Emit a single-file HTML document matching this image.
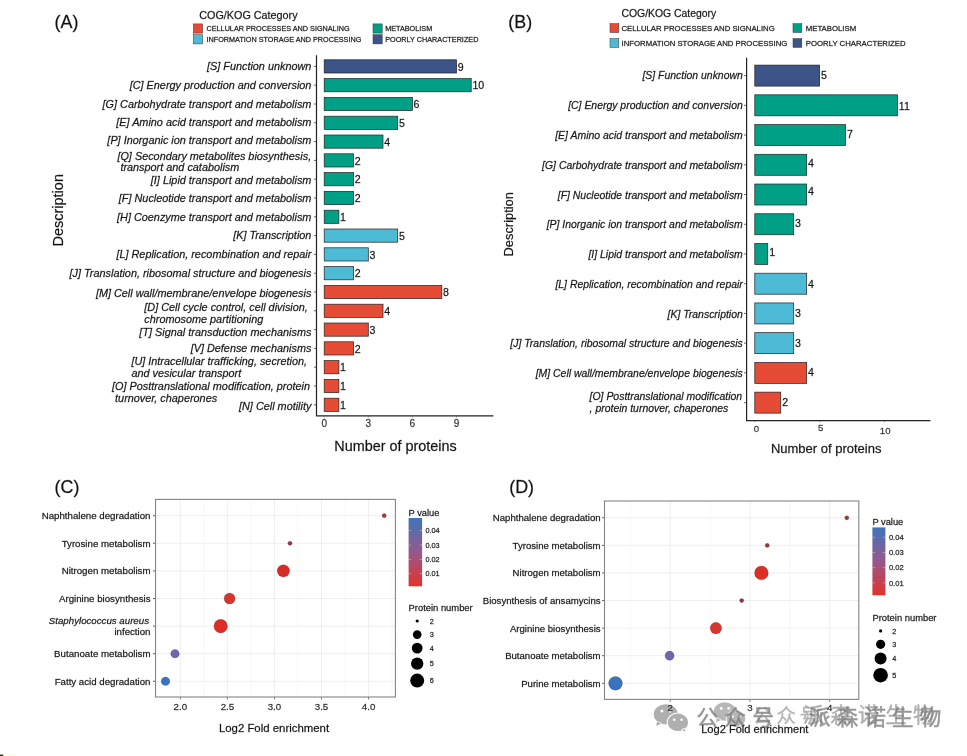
<!DOCTYPE html>
<html><head><meta charset="utf-8"><title>Figure</title>
<style>
html,body{margin:0;padding:0;background:#fff;}
body{width:967px;height:756px;overflow:hidden;font-family:"Liberation Sans",sans-serif;}
svg{display:block;font-family:"Liberation Sans",sans-serif;will-change:transform;filter:blur(0.4px);}
svg text{stroke:#222;stroke-width:0.3px;stroke-opacity:0.7;}
</style></head><body>
<svg width="967" height="756" viewBox="0 0 967 756">
<defs><linearGradient id="pgrad" x1="0" y1="0" x2="0" y2="1"><stop offset="0" stop-color="#3F74BC"/><stop offset="0.5" stop-color="#96588A"/><stop offset="1" stop-color="#E2322A"/></linearGradient></defs>
<rect width="967" height="756" fill="#fff"/>
<g id="wm">
<g opacity="0.66">
<g transform="translate(724.8,711.5) scale(0.92)"><path d="M-12.1,0 a12.1,10.1 0 1,1 24.2,0 a12.1,10.1 0 1,1 -24.2,0 Z M-8.6,6.6 L-9.6,11.6 L-3.4,9.0 Z" fill="#939393"/><circle cx="-3.9" cy="-3.3" r="1.5" fill="#fff"/><circle cx="4.3" cy="-3.3" r="1.5" fill="#fff"/><ellipse cx="12.1" cy="8.0" rx="11.2" ry="9.7" fill="#fff"/><path d="M1.9,8.0 a10.2,8.7 0 1,1 20.4,0 a10.2,8.7 0 1,1 -20.4,0 Z M15.5,15.2 L19.6,17.6 L18.6,13.4 Z" fill="#939393"/><circle cx="8.4" cy="5.4" r="1.3" fill="#fff"/><circle cx="15.8" cy="5.4" r="1.3" fill="#fff"/></g>
<text x="753 776.5 799.5" y="722.5" font-size="19.5" fill="#8f8f8f" style="font-family:'Liberation Sans','Noto Sans CJK SC',sans-serif;stroke:#8f8f8f;stroke-width:0.3px;stroke-opacity:1;">公众号</text>
<text x="803 830.5 858 885.5 913" y="722" font-size="21" fill="#858585" style="font-family:'Liberation Sans','Noto Sans CJK SC',sans-serif;stroke:#858585;stroke-width:0.4px;stroke-opacity:1;">派森诺生物</text>
</g>
<g opacity="0.8">
<g transform="translate(665.8,714.3) scale(1.0)"><path d="M-12.1,0 a12.1,10.1 0 1,1 24.2,0 a12.1,10.1 0 1,1 -24.2,0 Z M-8.6,6.6 L-9.6,11.6 L-3.4,9.0 Z" fill="#9c9c9c"/><circle cx="-3.9" cy="-3.3" r="1.5" fill="#fff"/><circle cx="4.3" cy="-3.3" r="1.5" fill="#fff"/><ellipse cx="12.1" cy="8.0" rx="11.2" ry="9.7" fill="#fff"/><path d="M1.9,8.0 a10.2,8.7 0 1,1 20.4,0 a10.2,8.7 0 1,1 -20.4,0 Z M15.5,15.2 L19.6,17.6 L18.6,13.4 Z" fill="#9c9c9c"/><circle cx="8.4" cy="5.4" r="1.3" fill="#fff"/><circle cx="15.8" cy="5.4" r="1.3" fill="#fff"/></g>
<text x="696.5 724.5 752.5" y="725" font-size="21.5" fill="#7d7d7d" style="font-family:'Liberation Sans','Noto Sans CJK SC',sans-serif;stroke:#7d7d7d;stroke-width:0.45px;stroke-opacity:1;">公众号</text>
<text x="809 836.7 864.4 892 919.8" y="725" font-size="21.5" fill="#7d7d7d" style="font-family:'Liberation Sans','Noto Sans CJK SC',sans-serif;stroke:#7d7d7d;stroke-width:0.45px;stroke-opacity:1;">派森诺生物</text>
</g>
</g>
<rect x="324.2" y="59.80" width="132.30" height="13.2" fill="#3C5488" stroke="#222" stroke-width="0.7"/>
<text x="457.7" y="70.52" font-size="10.6" text-anchor="start" fill="#111"  >9</text>
<line x1="313.9" x2="316.5" y1="66.40" y2="66.40" stroke="#444" stroke-width="0.8"/>
<text x="311.4" y="70.31" font-size="10.87" text-anchor="end" fill="#111" font-style="italic" >[S] Function unknown</text>
<rect x="324.2" y="78.60" width="147.00" height="13.2" fill="#00A087" stroke="#222" stroke-width="0.7"/>
<text x="472.4" y="89.32" font-size="10.6" text-anchor="start" fill="#111"  >10</text>
<line x1="313.9" x2="316.5" y1="85.20" y2="85.20" stroke="#444" stroke-width="0.8"/>
<text x="311.4" y="89.11" font-size="10.87" text-anchor="end" fill="#111" font-style="italic" >[C] Energy production and conversion</text>
<rect x="324.2" y="97.40" width="88.20" height="13.2" fill="#00A087" stroke="#222" stroke-width="0.7"/>
<text x="413.6" y="108.12" font-size="10.6" text-anchor="start" fill="#111"  >6</text>
<line x1="313.9" x2="316.5" y1="104.00" y2="104.00" stroke="#444" stroke-width="0.8"/>
<text x="311.4" y="107.91" font-size="10.87" text-anchor="end" fill="#111" font-style="italic" >[G] Carbohydrate transport and metabolism</text>
<rect x="324.2" y="116.20" width="73.50" height="13.2" fill="#00A087" stroke="#222" stroke-width="0.7"/>
<text x="398.9" y="126.92" font-size="10.6" text-anchor="start" fill="#111"  >5</text>
<line x1="313.9" x2="316.5" y1="122.80" y2="122.80" stroke="#444" stroke-width="0.8"/>
<text x="311.4" y="126.01" font-size="10.87" text-anchor="end" fill="#111" font-style="italic" >[E] Amino acid transport and metabolism</text>
<rect x="324.2" y="135.00" width="58.80" height="13.2" fill="#00A087" stroke="#222" stroke-width="0.7"/>
<text x="384.2" y="145.72" font-size="10.6" text-anchor="start" fill="#111"  >4</text>
<line x1="313.9" x2="316.5" y1="141.60" y2="141.60" stroke="#444" stroke-width="0.8"/>
<text x="311.4" y="143.61" font-size="10.87" text-anchor="end" fill="#111" font-style="italic" >[P] Inorganic ion transport and metabolism</text>
<rect x="324.2" y="153.80" width="29.40" height="13.2" fill="#00A087" stroke="#222" stroke-width="0.7"/>
<text x="354.8" y="164.52" font-size="10.6" text-anchor="start" fill="#111"  >2</text>
<line x1="313.9" x2="316.5" y1="160.40" y2="160.40" stroke="#444" stroke-width="0.8"/>
<text x="117.4" y="159.51" font-size="10.87" text-anchor="start" fill="#111" font-style="italic" >[Q] Secondary metabolites biosynthesis,</text>
<text x="120.4" y="170.91" font-size="10.87" text-anchor="start" fill="#111" font-style="italic" >transport and catabolism</text>
<rect x="324.2" y="172.60" width="29.40" height="13.2" fill="#00A087" stroke="#222" stroke-width="0.7"/>
<text x="354.8" y="183.32" font-size="10.6" text-anchor="start" fill="#111"  >2</text>
<line x1="313.9" x2="316.5" y1="179.20" y2="179.20" stroke="#444" stroke-width="0.8"/>
<text x="311.4" y="183.81" font-size="10.87" text-anchor="end" fill="#111" font-style="italic" >[I] Lipid transport and metabolism</text>
<rect x="324.2" y="191.40" width="29.40" height="13.2" fill="#00A087" stroke="#222" stroke-width="0.7"/>
<text x="354.8" y="202.12" font-size="10.6" text-anchor="start" fill="#111"  >2</text>
<line x1="313.9" x2="316.5" y1="198.00" y2="198.00" stroke="#444" stroke-width="0.8"/>
<text x="311.4" y="201.91" font-size="10.87" text-anchor="end" fill="#111" font-style="italic" >[F] Nucleotide transport and metabolism</text>
<rect x="324.2" y="210.20" width="14.70" height="13.2" fill="#00A087" stroke="#222" stroke-width="0.7"/>
<text x="340.1" y="220.92" font-size="10.6" text-anchor="start" fill="#111"  >1</text>
<line x1="313.9" x2="316.5" y1="216.80" y2="216.80" stroke="#444" stroke-width="0.8"/>
<text x="311.4" y="220.71" font-size="10.87" text-anchor="end" fill="#111" font-style="italic" >[H] Coenzyme transport and metabolism</text>
<rect x="324.2" y="229.00" width="73.50" height="13.2" fill="#4DBBD5" stroke="#222" stroke-width="0.7"/>
<text x="398.9" y="239.72" font-size="10.6" text-anchor="start" fill="#111"  >5</text>
<line x1="313.9" x2="316.5" y1="235.60" y2="235.60" stroke="#444" stroke-width="0.8"/>
<text x="311.4" y="238.81" font-size="10.87" text-anchor="end" fill="#111" font-style="italic" >[K] Transcription</text>
<rect x="324.2" y="247.80" width="44.10" height="13.2" fill="#4DBBD5" stroke="#222" stroke-width="0.7"/>
<text x="369.5" y="258.52" font-size="10.6" text-anchor="start" fill="#111"  >3</text>
<line x1="313.9" x2="316.5" y1="254.40" y2="254.40" stroke="#444" stroke-width="0.8"/>
<text x="311.4" y="258.31" font-size="10.87" text-anchor="end" fill="#111" font-style="italic" >[L] Replication, recombination and repair</text>
<rect x="324.2" y="266.60" width="29.40" height="13.2" fill="#4DBBD5" stroke="#222" stroke-width="0.7"/>
<text x="354.8" y="277.32" font-size="10.6" text-anchor="start" fill="#111"  >2</text>
<line x1="313.9" x2="316.5" y1="273.20" y2="273.20" stroke="#444" stroke-width="0.8"/>
<text x="311.4" y="277.11" font-size="10.87" text-anchor="end" fill="#111" font-style="italic" >[J] Translation, ribosomal structure and biogenesis</text>
<rect x="324.2" y="285.40" width="117.60" height="13.2" fill="#E64B35" stroke="#222" stroke-width="0.7"/>
<text x="443.0" y="296.12" font-size="10.6" text-anchor="start" fill="#111"  >8</text>
<line x1="313.9" x2="316.5" y1="292.00" y2="292.00" stroke="#444" stroke-width="0.8"/>
<text x="311.4" y="296.91" font-size="10.87" text-anchor="end" fill="#111" font-style="italic" >[M] Cell wall/membrane/envelope biogenesis</text>
<rect x="324.2" y="304.20" width="58.80" height="13.2" fill="#E64B35" stroke="#222" stroke-width="0.7"/>
<text x="384.2" y="314.92" font-size="10.6" text-anchor="start" fill="#111"  >4</text>
<line x1="313.9" x2="316.5" y1="310.80" y2="310.80" stroke="#444" stroke-width="0.8"/>
<text x="144.3" y="311.01" font-size="10.87" text-anchor="start" fill="#111" font-style="italic" >[D] Cell cycle control, cell division,</text>
<text x="144.3" y="323.21" font-size="10.87" text-anchor="start" fill="#111" font-style="italic" >chromosome partitioning</text>
<rect x="324.2" y="323.00" width="44.10" height="13.2" fill="#E64B35" stroke="#222" stroke-width="0.7"/>
<text x="369.5" y="333.72" font-size="10.6" text-anchor="start" fill="#111"  >3</text>
<line x1="313.9" x2="316.5" y1="329.60" y2="329.60" stroke="#444" stroke-width="0.8"/>
<text x="311.4" y="335.81" font-size="10.87" text-anchor="end" fill="#111" font-style="italic" >[T] Signal transduction mechanisms</text>
<rect x="324.2" y="341.80" width="29.40" height="13.2" fill="#E64B35" stroke="#222" stroke-width="0.7"/>
<text x="354.8" y="352.52" font-size="10.6" text-anchor="start" fill="#111"  >2</text>
<line x1="313.9" x2="316.5" y1="348.40" y2="348.40" stroke="#444" stroke-width="0.8"/>
<text x="311.4" y="352.31" font-size="10.87" text-anchor="end" fill="#111" font-style="italic" >[V] Defense mechanisms</text>
<rect x="324.2" y="360.60" width="14.70" height="13.2" fill="#E64B35" stroke="#222" stroke-width="0.7"/>
<text x="340.1" y="371.32" font-size="10.6" text-anchor="start" fill="#111"  >1</text>
<line x1="313.9" x2="316.5" y1="367.20" y2="367.20" stroke="#444" stroke-width="0.8"/>
<text x="131.4" y="365.31" font-size="10.87" text-anchor="start" fill="#111" font-style="italic" >[U] Intracellular trafficking, secretion,</text>
<text x="131.4" y="377.01" font-size="10.87" text-anchor="start" fill="#111" font-style="italic" >and vesicular transport</text>
<rect x="324.2" y="379.40" width="14.70" height="13.2" fill="#E64B35" stroke="#222" stroke-width="0.7"/>
<text x="340.1" y="390.12" font-size="10.6" text-anchor="start" fill="#111"  >1</text>
<line x1="313.9" x2="316.5" y1="386.00" y2="386.00" stroke="#444" stroke-width="0.8"/>
<text x="112.0" y="389.91" font-size="10.87" text-anchor="start" fill="#111" font-style="italic" >[O] Posttranslational modification, protein</text>
<text x="115.1" y="402.31" font-size="10.87" text-anchor="start" fill="#111" font-style="italic" >turnover, chaperones</text>
<rect x="324.2" y="398.20" width="14.70" height="13.2" fill="#E64B35" stroke="#222" stroke-width="0.7"/>
<text x="340.1" y="408.92" font-size="10.6" text-anchor="start" fill="#111"  >1</text>
<line x1="313.9" x2="316.5" y1="404.80" y2="404.80" stroke="#444" stroke-width="0.8"/>
<text x="311.4" y="409.71" font-size="10.87" text-anchor="end" fill="#111" font-style="italic" >[N] Cell motility</text>
<line x1="316.5" x2="316.5" y1="55.3" y2="415.8" stroke="#222" stroke-width="1.2"/>
<line x1="315.9" x2="493.4" y1="415.8" y2="415.8" stroke="#222" stroke-width="1.2"/>
<line x1="324.20" x2="324.20" y1="415.8" y2="417.40000000000003" stroke="#555" stroke-width="0.7"/>
<text x="324.2" y="427.3" font-size="10" text-anchor="middle" fill="#444"  >0</text>
<line x1="368.30" x2="368.30" y1="415.8" y2="417.40000000000003" stroke="#555" stroke-width="0.7"/>
<text x="368.3" y="427.3" font-size="10" text-anchor="middle" fill="#444"  >3</text>
<line x1="412.40" x2="412.40" y1="415.8" y2="417.40000000000003" stroke="#555" stroke-width="0.7"/>
<text x="412.4" y="427.3" font-size="10" text-anchor="middle" fill="#444"  >6</text>
<line x1="456.50" x2="456.50" y1="415.8" y2="417.40000000000003" stroke="#555" stroke-width="0.7"/>
<text x="456.5" y="427.3" font-size="10" text-anchor="middle" fill="#444"  >9</text>
<text x="395.5" y="451" font-size="14.4" text-anchor="middle" fill="#111"  >Number of proteins</text>
<text x="54.6" y="27.9" font-size="17.9" text-anchor="start" fill="#111"  >(A)</text>
<text transform="translate(63,210.3) rotate(-90)" font-size="14.5" text-anchor="middle" fill="#111">Description</text>
<text x="199.2" y="18.8" font-size="10.8" text-anchor="start" fill="#111"  >COG/KOG Category</text>
<rect x="193.4" y="23.90" width="9.2" height="9.2" fill="#E64B35" stroke="#333" stroke-width="0.5"/>
<rect x="193.4" y="34.70" width="9.2" height="9.2" fill="#4DBBD5" stroke="#333" stroke-width="0.5"/>
<rect x="373" y="23.90" width="9.2" height="9.2" fill="#00A087" stroke="#333" stroke-width="0.5"/>
<rect x="373" y="34.70" width="9.2" height="9.2" fill="#3C5488" stroke="#333" stroke-width="0.5"/>
<text x="206.5" y="31.11" font-size="7.25" text-anchor="start" fill="#111"  >CELLULAR PROCESSES AND SIGNALING</text>
<text x="206.5" y="41.91" font-size="7.25" text-anchor="start" fill="#111"  >INFORMATION STORAGE AND PROCESSING</text>
<text x="385.2" y="31.11" font-size="7.25" text-anchor="start" fill="#111"  >METABOLISM</text>
<text x="385.2" y="41.91" font-size="7.25" text-anchor="start" fill="#111"  >POORLY CHARACTERIZED</text>
<rect x="754.8" y="65.10" width="64.85" height="21" fill="#3C5488" stroke="#222" stroke-width="0.7"/>
<text x="821.05" y="78.52" font-size="10.6" text-anchor="start" fill="#111"  >5</text>
<line x1="744.0" x2="746.6" y1="75.60" y2="75.60" stroke="#444" stroke-width="0.8"/>
<text x="742.8" y="79.36" font-size="10.45" text-anchor="end" fill="#111" font-style="italic" >[S] Function unknown</text>
<rect x="754.8" y="94.83" width="142.67" height="21" fill="#00A087" stroke="#222" stroke-width="0.7"/>
<text x="898.87" y="110.15" font-size="10.6" text-anchor="start" fill="#111"  >11</text>
<line x1="744.0" x2="746.6" y1="105.33" y2="105.33" stroke="#444" stroke-width="0.8"/>
<text x="742.8" y="109.09" font-size="10.45" text-anchor="end" fill="#111" font-style="italic" >[C] Energy production and conversion</text>
<rect x="754.8" y="124.56" width="90.79" height="21" fill="#00A087" stroke="#222" stroke-width="0.7"/>
<text x="846.99" y="137.58" font-size="10.6" text-anchor="start" fill="#111"  >7</text>
<line x1="744.0" x2="746.6" y1="135.06" y2="135.06" stroke="#444" stroke-width="0.8"/>
<text x="742.8" y="138.82" font-size="10.45" text-anchor="end" fill="#111" font-style="italic" >[E] Amino acid transport and metabolism</text>
<rect x="754.8" y="154.29" width="51.88" height="21" fill="#00A087" stroke="#222" stroke-width="0.7"/>
<text x="808.08" y="166.71" font-size="10.6" text-anchor="start" fill="#111"  >4</text>
<line x1="744.0" x2="746.6" y1="164.79" y2="164.79" stroke="#444" stroke-width="0.8"/>
<text x="742.8" y="168.55" font-size="10.45" text-anchor="end" fill="#111" font-style="italic" >[G] Carbohydrate transport and metabolism</text>
<rect x="754.8" y="184.02" width="51.88" height="21" fill="#00A087" stroke="#222" stroke-width="0.7"/>
<text x="808.08" y="195.34" font-size="10.6" text-anchor="start" fill="#111"  >4</text>
<line x1="744.0" x2="746.6" y1="194.52" y2="194.52" stroke="#444" stroke-width="0.8"/>
<text x="742.8" y="198.78" font-size="10.45" text-anchor="end" fill="#111" font-style="italic" >[F] Nucleotide transport and metabolism</text>
<rect x="754.8" y="213.75" width="38.91" height="21" fill="#00A087" stroke="#222" stroke-width="0.7"/>
<text x="795.11" y="227.47" font-size="10.6" text-anchor="start" fill="#111"  >3</text>
<line x1="744.0" x2="746.6" y1="224.25" y2="224.25" stroke="#444" stroke-width="0.8"/>
<text x="742.8" y="228.01" font-size="10.45" text-anchor="end" fill="#111" font-style="italic" >[P] Inorganic ion transport and metabolism</text>
<rect x="754.8" y="243.48" width="12.97" height="21" fill="#00A087" stroke="#222" stroke-width="0.7"/>
<text x="769.17" y="256.3" font-size="10.6" text-anchor="start" fill="#111"  >1</text>
<line x1="744.0" x2="746.6" y1="253.98" y2="253.98" stroke="#444" stroke-width="0.8"/>
<text x="742.8" y="257.74" font-size="10.45" text-anchor="end" fill="#111" font-style="italic" >[I] Lipid transport and metabolism</text>
<rect x="754.8" y="273.21" width="51.88" height="21" fill="#4DBBD5" stroke="#222" stroke-width="0.7"/>
<text x="808.08" y="287.83" font-size="10.6" text-anchor="start" fill="#111"  >4</text>
<line x1="744.0" x2="746.6" y1="283.71" y2="283.71" stroke="#444" stroke-width="0.8"/>
<text x="742.8" y="288.17" font-size="10.45" text-anchor="end" fill="#111" font-style="italic" >[L] Replication, recombination and repair</text>
<rect x="754.8" y="302.94" width="38.91" height="21" fill="#4DBBD5" stroke="#222" stroke-width="0.7"/>
<text x="795.11" y="317.36" font-size="10.6" text-anchor="start" fill="#111"  >3</text>
<line x1="744.0" x2="746.6" y1="313.44" y2="313.44" stroke="#444" stroke-width="0.8"/>
<text x="742.8" y="317.9" font-size="10.45" text-anchor="end" fill="#111" font-style="italic" >[K] Transcription</text>
<rect x="754.8" y="332.67" width="38.91" height="21" fill="#4DBBD5" stroke="#222" stroke-width="0.7"/>
<text x="795.11" y="346.99" font-size="10.6" text-anchor="start" fill="#111"  >3</text>
<line x1="744.0" x2="746.6" y1="343.17" y2="343.17" stroke="#444" stroke-width="0.8"/>
<text x="742.8" y="346.93" font-size="10.45" text-anchor="end" fill="#111" font-style="italic" >[J] Translation, ribosomal structure and biogenesis</text>
<rect x="754.8" y="362.40" width="51.88" height="21" fill="#E64B35" stroke="#222" stroke-width="0.7"/>
<text x="808.08" y="376.32" font-size="10.6" text-anchor="start" fill="#111"  >4</text>
<line x1="744.0" x2="746.6" y1="372.90" y2="372.90" stroke="#444" stroke-width="0.8"/>
<text x="742.8" y="376.66" font-size="10.45" text-anchor="end" fill="#111" font-style="italic" >[M] Cell wall/membrane/envelope biogenesis</text>
<rect x="754.8" y="392.13" width="25.94" height="21" fill="#E64B35" stroke="#222" stroke-width="0.7"/>
<text x="782.14" y="406.45" font-size="10.6" text-anchor="start" fill="#111"  >2</text>
<line x1="744.0" x2="746.6" y1="402.63" y2="402.63" stroke="#444" stroke-width="0.8"/>
<text x="589.6" y="400.16" font-size="10.45" text-anchor="start" fill="#111" font-style="italic" >[O] Posttranslational modification</text>
<text x="589.6" y="411.66" font-size="10.45" text-anchor="start" fill="#111" font-style="italic" >, protein turnover, chaperones</text>
<line x1="746.6" x2="746.6" y1="57.7" y2="420.6" stroke="#222" stroke-width="1.2"/>
<line x1="746.0" x2="930.5" y1="420.6" y2="420.6" stroke="#222" stroke-width="1.2"/>
<line x1="754.80" x2="754.80" y1="420.6" y2="422.20000000000005" stroke="#555" stroke-width="0.7"/>
<text x="756.5" y="431.66" font-size="9.6" text-anchor="middle" fill="#444"  >0</text>
<line x1="819.65" x2="819.65" y1="420.6" y2="422.20000000000005" stroke="#555" stroke-width="0.7"/>
<text x="820.7" y="431.06" font-size="9.6" text-anchor="middle" fill="#444"  >5</text>
<line x1="884.50" x2="884.50" y1="420.6" y2="422.20000000000005" stroke="#555" stroke-width="0.7"/>
<text x="885.2" y="433.56" font-size="9.6" text-anchor="middle" fill="#444"  >10</text>
<text x="826.2" y="452.8" font-size="13.0" text-anchor="middle" fill="#111"  >Number of proteins</text>
<text x="508.3" y="27.9" font-size="17.9" text-anchor="start" fill="#111"  >(B)</text>
<text transform="translate(513.2,224.3) rotate(-90)" font-size="12.9" text-anchor="middle" fill="#111">Description</text>
<text x="621.5" y="17" font-size="10.4" text-anchor="start" fill="#111"  >COG/KOG Category</text>
<rect x="610" y="23.70" width="8.8" height="8.8" fill="#E64B35" stroke="#333" stroke-width="0.5"/>
<rect x="610" y="38.60" width="8.8" height="8.8" fill="#4DBBD5" stroke="#333" stroke-width="0.5"/>
<rect x="793" y="23.70" width="8.8" height="8.8" fill="#00A087" stroke="#333" stroke-width="0.5"/>
<rect x="793" y="38.60" width="8.8" height="8.8" fill="#3C5488" stroke="#333" stroke-width="0.5"/>
<text x="621.5" y="30.9" font-size="7.78" text-anchor="start" fill="#111"  >CELLULAR PROCESSES AND SIGNALING</text>
<text x="621.5" y="45.8" font-size="7.78" text-anchor="start" fill="#111"  >INFORMATION STORAGE AND PROCESSING</text>
<text x="805.8" y="30.9" font-size="7.78" text-anchor="start" fill="#111"  >METABOLISM</text>
<text x="805.8" y="45.8" font-size="7.78" text-anchor="start" fill="#111"  >POORLY CHARACTERIZED</text>
<rect x="155.5" y="499.4" width="239.89999999999998" height="197.60000000000002" fill="#fff" stroke="none"/>
<line x1="156.76" x2="156.76" y1="499.4" y2="697.0" stroke="#f3f3f3" stroke-width="0.55"/>
<line x1="203.84" x2="203.84" y1="499.4" y2="697.0" stroke="#f3f3f3" stroke-width="0.55"/>
<line x1="250.91" x2="250.91" y1="499.4" y2="697.0" stroke="#f3f3f3" stroke-width="0.55"/>
<line x1="297.99" x2="297.99" y1="499.4" y2="697.0" stroke="#f3f3f3" stroke-width="0.55"/>
<line x1="345.06" x2="345.06" y1="499.4" y2="697.0" stroke="#f3f3f3" stroke-width="0.55"/>
<line x1="392.14" x2="392.14" y1="499.4" y2="697.0" stroke="#f3f3f3" stroke-width="0.55"/>
<line x1="180.30" x2="180.30" y1="499.4" y2="697.0" stroke="#eaeaea" stroke-width="0.75"/>
<line x1="180.30" x2="180.30" y1="697.0" y2="699.5" stroke="#444" stroke-width="0.7"/>
<text x="180.3" y="709.8" font-size="9.7" text-anchor="middle" fill="#333"  >2.0</text>
<line x1="227.38" x2="227.38" y1="499.4" y2="697.0" stroke="#eaeaea" stroke-width="0.75"/>
<line x1="227.38" x2="227.38" y1="697.0" y2="699.5" stroke="#444" stroke-width="0.7"/>
<text x="227.38" y="709.8" font-size="9.7" text-anchor="middle" fill="#333"  >2.5</text>
<line x1="274.45" x2="274.45" y1="499.4" y2="697.0" stroke="#eaeaea" stroke-width="0.75"/>
<line x1="274.45" x2="274.45" y1="697.0" y2="699.5" stroke="#444" stroke-width="0.7"/>
<text x="274.45" y="709.8" font-size="9.7" text-anchor="middle" fill="#333"  >3.0</text>
<line x1="321.53" x2="321.53" y1="499.4" y2="697.0" stroke="#eaeaea" stroke-width="0.75"/>
<line x1="321.53" x2="321.53" y1="697.0" y2="699.5" stroke="#444" stroke-width="0.7"/>
<text x="321.53" y="709.8" font-size="9.7" text-anchor="middle" fill="#333"  >3.5</text>
<line x1="368.60" x2="368.60" y1="499.4" y2="697.0" stroke="#eaeaea" stroke-width="0.75"/>
<line x1="368.60" x2="368.60" y1="697.0" y2="699.5" stroke="#444" stroke-width="0.7"/>
<text x="368.6" y="709.8" font-size="9.7" text-anchor="middle" fill="#333"  >4.0</text>
<line x1="155.5" x2="395.4" y1="515.70" y2="515.70" stroke="#eaeaea" stroke-width="0.75"/>
<line x1="153.1" x2="155.5" y1="515.70" y2="515.70" stroke="#333" stroke-width="0.8"/>
<text x="150.5" y="519.19" font-size="9.7" text-anchor="end" fill="#111"  >Naphthalene degradation</text>
<line x1="155.5" x2="395.4" y1="543.30" y2="543.30" stroke="#eaeaea" stroke-width="0.75"/>
<line x1="153.1" x2="155.5" y1="543.30" y2="543.30" stroke="#333" stroke-width="0.8"/>
<text x="150.5" y="546.79" font-size="9.7" text-anchor="end" fill="#111"  >Tyrosine metabolism</text>
<line x1="155.5" x2="395.4" y1="570.90" y2="570.90" stroke="#eaeaea" stroke-width="0.75"/>
<line x1="153.1" x2="155.5" y1="570.90" y2="570.90" stroke="#333" stroke-width="0.8"/>
<text x="150.5" y="574.39" font-size="9.7" text-anchor="end" fill="#111"  >Nitrogen metabolism</text>
<line x1="155.5" x2="395.4" y1="598.50" y2="598.50" stroke="#eaeaea" stroke-width="0.75"/>
<line x1="153.1" x2="155.5" y1="598.50" y2="598.50" stroke="#333" stroke-width="0.8"/>
<text x="150.5" y="601.99" font-size="9.7" text-anchor="end" fill="#111"  >Arginine biosynthesis</text>
<line x1="155.5" x2="395.4" y1="626.10" y2="626.10" stroke="#eaeaea" stroke-width="0.75"/>
<line x1="153.1" x2="155.5" y1="626.10" y2="626.10" stroke="#333" stroke-width="0.8"/>
<text x="149.0" y="624.39" font-size="9.7" text-anchor="end" fill="#111" font-style="italic" >Staphylococcus aureus</text>
<text x="150.5" y="635.39" font-size="9.7" text-anchor="end" fill="#111"  >infection</text>
<line x1="155.5" x2="395.4" y1="653.70" y2="653.70" stroke="#eaeaea" stroke-width="0.75"/>
<line x1="153.1" x2="155.5" y1="653.70" y2="653.70" stroke="#333" stroke-width="0.8"/>
<text x="150.5" y="657.19" font-size="9.7" text-anchor="end" fill="#111"  >Butanoate metabolism</text>
<line x1="155.5" x2="395.4" y1="681.30" y2="681.30" stroke="#eaeaea" stroke-width="0.75"/>
<line x1="153.1" x2="155.5" y1="681.30" y2="681.30" stroke="#333" stroke-width="0.8"/>
<text x="150.5" y="684.79" font-size="9.7" text-anchor="end" fill="#111"  >Fatty acid degradation</text>
<rect x="155.5" y="499.4" width="239.89999999999998" height="197.60000000000002" fill="none" stroke="#858585" stroke-width="1.1"/>
<circle cx="384.20" cy="515.70" r="2.1" fill="#A8343C" stroke="#000" stroke-opacity="0.22" stroke-width="0.7"/>
<circle cx="290.00" cy="543.30" r="2.1" fill="#9C3646" stroke="#000" stroke-opacity="0.22" stroke-width="0.7"/>
<circle cx="283.40" cy="570.90" r="6.2" fill="#DA2C26" stroke="#000" stroke-opacity="0.22" stroke-width="0.7"/>
<circle cx="229.60" cy="598.50" r="5.5" fill="#D6342E" stroke="#000" stroke-opacity="0.22" stroke-width="0.7"/>
<circle cx="220.70" cy="626.10" r="6.8" fill="#DE2D26" stroke="#000" stroke-opacity="0.22" stroke-width="0.7"/>
<circle cx="175.00" cy="653.70" r="4.3" fill="#6F66AC" stroke="#000" stroke-opacity="0.22" stroke-width="0.7"/>
<circle cx="165.50" cy="681.30" r="4.3" fill="#3A73BD" stroke="#000" stroke-opacity="0.22" stroke-width="0.7"/>
<text x="274" y="731.6" font-size="11.4" text-anchor="middle" fill="#111"  >Log2 Fold enrichment</text>
<text x="54.599999999999994" y="493.3" font-size="17.9" text-anchor="start" fill="#111"  >(C)</text>
<text x="408.6" y="515.65" font-size="9.3" text-anchor="start" fill="#111"  >P value</text>
<rect x="408.6" y="518" width="13.5" height="68.29999999999995" fill="url(#pgrad)"/>
<line x1="408.6" x2="411.20000000000005" y1="530.5" y2="530.5" stroke="#fff" stroke-opacity="0.7" stroke-width="0.5"/>
<line x1="419.5" x2="422.1" y1="530.5" y2="530.5" stroke="#fff" stroke-opacity="0.7" stroke-width="0.5"/>
<text x="425.4" y="533.13" font-size="7.3" text-anchor="start" fill="#222"  >0.04</text>
<line x1="408.6" x2="411.20000000000005" y1="545.1" y2="545.1" stroke="#fff" stroke-opacity="0.7" stroke-width="0.5"/>
<line x1="419.5" x2="422.1" y1="545.1" y2="545.1" stroke="#fff" stroke-opacity="0.7" stroke-width="0.5"/>
<text x="425.4" y="547.73" font-size="7.3" text-anchor="start" fill="#222"  >0.03</text>
<line x1="408.6" x2="411.20000000000005" y1="559.5" y2="559.5" stroke="#fff" stroke-opacity="0.7" stroke-width="0.5"/>
<line x1="419.5" x2="422.1" y1="559.5" y2="559.5" stroke="#fff" stroke-opacity="0.7" stroke-width="0.5"/>
<text x="425.4" y="562.13" font-size="7.3" text-anchor="start" fill="#222"  >0.02</text>
<line x1="408.6" x2="411.20000000000005" y1="573.6" y2="573.6" stroke="#fff" stroke-opacity="0.7" stroke-width="0.5"/>
<line x1="419.5" x2="422.1" y1="573.6" y2="573.6" stroke="#fff" stroke-opacity="0.7" stroke-width="0.5"/>
<text x="425.4" y="576.23" font-size="7.3" text-anchor="start" fill="#222"  >0.01</text>
<text x="408.6" y="610.88" font-size="9.4" text-anchor="start" fill="#111"  >Protein number</text>
<circle cx="417.2" cy="621" r="1.6" fill="#000"/>
<text x="429.7" y="623.63" font-size="7.3" text-anchor="start" fill="#222"  >2</text>
<circle cx="417.2" cy="634.6" r="4.3" fill="#000"/>
<text x="429.7" y="637.23" font-size="7.3" text-anchor="start" fill="#222"  >3</text>
<circle cx="417.2" cy="648.1" r="5.4" fill="#000"/>
<text x="429.7" y="650.73" font-size="7.3" text-anchor="start" fill="#222"  >4</text>
<circle cx="417.2" cy="663.6" r="6.2" fill="#000"/>
<text x="429.7" y="666.23" font-size="7.3" text-anchor="start" fill="#222"  >5</text>
<circle cx="417.2" cy="680.6" r="7.0" fill="#000"/>
<text x="429.7" y="683.23" font-size="7.3" text-anchor="start" fill="#222"  >6</text>
<rect x="604.5" y="501.0" width="254.29999999999995" height="198.39999999999998" fill="#fff" stroke="none"/>
<line x1="630.33" x2="630.33" y1="501.0" y2="699.4" stroke="#f3f3f3" stroke-width="0.55"/>
<line x1="710.08" x2="710.08" y1="501.0" y2="699.4" stroke="#f3f3f3" stroke-width="0.55"/>
<line x1="789.83" x2="789.83" y1="501.0" y2="699.4" stroke="#f3f3f3" stroke-width="0.55"/>
<line x1="670.20" x2="670.20" y1="501.0" y2="699.4" stroke="#eaeaea" stroke-width="0.75"/>
<line x1="670.20" x2="670.20" y1="699.4" y2="701.9" stroke="#444" stroke-width="0.7"/>
<text x="670.2" y="711" font-size="9.7" text-anchor="middle" fill="#333"  >2</text>
<line x1="749.95" x2="749.95" y1="501.0" y2="699.4" stroke="#eaeaea" stroke-width="0.75"/>
<line x1="749.95" x2="749.95" y1="699.4" y2="701.9" stroke="#444" stroke-width="0.7"/>
<text x="749.95" y="711" font-size="9.7" text-anchor="middle" fill="#333"  >3</text>
<line x1="829.70" x2="829.70" y1="501.0" y2="699.4" stroke="#eaeaea" stroke-width="0.75"/>
<line x1="829.70" x2="829.70" y1="699.4" y2="701.9" stroke="#444" stroke-width="0.7"/>
<text x="829.7" y="711" font-size="9.7" text-anchor="middle" fill="#333"  >4</text>
<line x1="604.5" x2="858.8" y1="517.80" y2="517.80" stroke="#eaeaea" stroke-width="0.75"/>
<line x1="602.1" x2="604.5" y1="517.80" y2="517.80" stroke="#333" stroke-width="0.8"/>
<text x="600.6" y="521.26" font-size="9.6" text-anchor="end" fill="#111"  >Naphthalene degradation</text>
<line x1="604.5" x2="858.8" y1="545.38" y2="545.38" stroke="#eaeaea" stroke-width="0.75"/>
<line x1="602.1" x2="604.5" y1="545.38" y2="545.38" stroke="#333" stroke-width="0.8"/>
<text x="600.6" y="548.84" font-size="9.6" text-anchor="end" fill="#111"  >Tyrosine metabolism</text>
<line x1="604.5" x2="858.8" y1="572.96" y2="572.96" stroke="#eaeaea" stroke-width="0.75"/>
<line x1="602.1" x2="604.5" y1="572.96" y2="572.96" stroke="#333" stroke-width="0.8"/>
<text x="600.6" y="576.42" font-size="9.6" text-anchor="end" fill="#111"  >Nitrogen metabolism</text>
<line x1="604.5" x2="858.8" y1="600.54" y2="600.54" stroke="#eaeaea" stroke-width="0.75"/>
<line x1="602.1" x2="604.5" y1="600.54" y2="600.54" stroke="#333" stroke-width="0.8"/>
<text x="600.6" y="604.0" font-size="9.6" text-anchor="end" fill="#111"  >Biosynthesis of ansamycins</text>
<line x1="604.5" x2="858.8" y1="628.12" y2="628.12" stroke="#eaeaea" stroke-width="0.75"/>
<line x1="602.1" x2="604.5" y1="628.12" y2="628.12" stroke="#333" stroke-width="0.8"/>
<text x="600.6" y="631.58" font-size="9.6" text-anchor="end" fill="#111"  >Arginine biosynthesis</text>
<line x1="604.5" x2="858.8" y1="655.70" y2="655.70" stroke="#eaeaea" stroke-width="0.75"/>
<line x1="602.1" x2="604.5" y1="655.70" y2="655.70" stroke="#333" stroke-width="0.8"/>
<text x="600.6" y="659.16" font-size="9.6" text-anchor="end" fill="#111"  >Butanoate metabolism</text>
<line x1="604.5" x2="858.8" y1="683.28" y2="683.28" stroke="#eaeaea" stroke-width="0.75"/>
<line x1="602.1" x2="604.5" y1="683.28" y2="683.28" stroke="#333" stroke-width="0.8"/>
<text x="600.6" y="686.74" font-size="9.6" text-anchor="end" fill="#111"  >Purine metabolism</text>
<rect x="604.5" y="501.0" width="254.29999999999995" height="198.39999999999998" fill="none" stroke="#858585" stroke-width="1.1"/>
<circle cx="846.80" cy="517.80" r="2.1" fill="#A8343C" stroke="#000" stroke-opacity="0.22" stroke-width="0.7"/>
<circle cx="767.20" cy="545.38" r="2.1" fill="#A8363F" stroke="#000" stroke-opacity="0.22" stroke-width="0.7"/>
<circle cx="761.40" cy="572.96" r="6.9" fill="#DA3028" stroke="#000" stroke-opacity="0.22" stroke-width="0.7"/>
<circle cx="741.70" cy="600.54" r="2.1" fill="#8E3A4C" stroke="#000" stroke-opacity="0.22" stroke-width="0.7"/>
<circle cx="715.90" cy="628.12" r="5.8" fill="#D8352F" stroke="#000" stroke-opacity="0.22" stroke-width="0.7"/>
<circle cx="669.60" cy="655.70" r="4.6" fill="#6F66AC" stroke="#000" stroke-opacity="0.22" stroke-width="0.7"/>
<circle cx="615.50" cy="683.28" r="6.9" fill="#3A73BD" stroke="#000" stroke-opacity="0.22" stroke-width="0.7"/>
<text x="754.8" y="732.6" font-size="11.1" text-anchor="middle" fill="#111"  >Log2 Fold enrichment</text>
<text x="509.2" y="493.3" font-size="17.9" text-anchor="start" fill="#111"  >(D)</text>
<text x="872.4" y="525.15" font-size="9.3" text-anchor="start" fill="#111"  >P value</text>
<rect x="872.4" y="527.4" width="13" height="67.89999999999998" fill="url(#pgrad)"/>
<line x1="872.4" x2="875.0" y1="537.2" y2="537.2" stroke="#fff" stroke-opacity="0.7" stroke-width="0.5"/>
<line x1="882.8" x2="885.4" y1="537.2" y2="537.2" stroke="#fff" stroke-opacity="0.7" stroke-width="0.5"/>
<text x="888.9" y="539.94" font-size="7.6" text-anchor="start" fill="#222"  >0.04</text>
<line x1="872.4" x2="875.0" y1="552.5" y2="552.5" stroke="#fff" stroke-opacity="0.7" stroke-width="0.5"/>
<line x1="882.8" x2="885.4" y1="552.5" y2="552.5" stroke="#fff" stroke-opacity="0.7" stroke-width="0.5"/>
<text x="888.9" y="555.24" font-size="7.6" text-anchor="start" fill="#222"  >0.03</text>
<line x1="872.4" x2="875.0" y1="567.7" y2="567.7" stroke="#fff" stroke-opacity="0.7" stroke-width="0.5"/>
<line x1="882.8" x2="885.4" y1="567.7" y2="567.7" stroke="#fff" stroke-opacity="0.7" stroke-width="0.5"/>
<text x="888.9" y="570.44" font-size="7.6" text-anchor="start" fill="#222"  >0.02</text>
<line x1="872.4" x2="875.0" y1="582.9" y2="582.9" stroke="#fff" stroke-opacity="0.7" stroke-width="0.5"/>
<line x1="882.8" x2="885.4" y1="582.9" y2="582.9" stroke="#fff" stroke-opacity="0.7" stroke-width="0.5"/>
<text x="888.9" y="585.64" font-size="7.6" text-anchor="start" fill="#222"  >0.01</text>
<text x="872.4" y="621.38" font-size="9.4" text-anchor="start" fill="#111"  >Protein number</text>
<circle cx="880.6" cy="630.9" r="1.6" fill="#000"/>
<text x="892.2" y="633.53" font-size="7.3" text-anchor="start" fill="#222"  >2</text>
<circle cx="880.6" cy="644.3" r="4.6" fill="#000"/>
<text x="892.2" y="646.93" font-size="7.3" text-anchor="start" fill="#222"  >3</text>
<circle cx="880.6" cy="658.5" r="6.0" fill="#000"/>
<text x="892.2" y="661.13" font-size="7.3" text-anchor="start" fill="#222"  >4</text>
<circle cx="880.6" cy="675.2" r="7.3" fill="#000"/>
<text x="892.2" y="677.83" font-size="7.3" text-anchor="start" fill="#222"  >5</text>
<rect x="0" y="753" width="16" height="3" fill="#fdfde8"/><rect x="0" y="754.6" width="3.2" height="1.4" fill="#2a2a1a"/>
</svg>
</body></html>
